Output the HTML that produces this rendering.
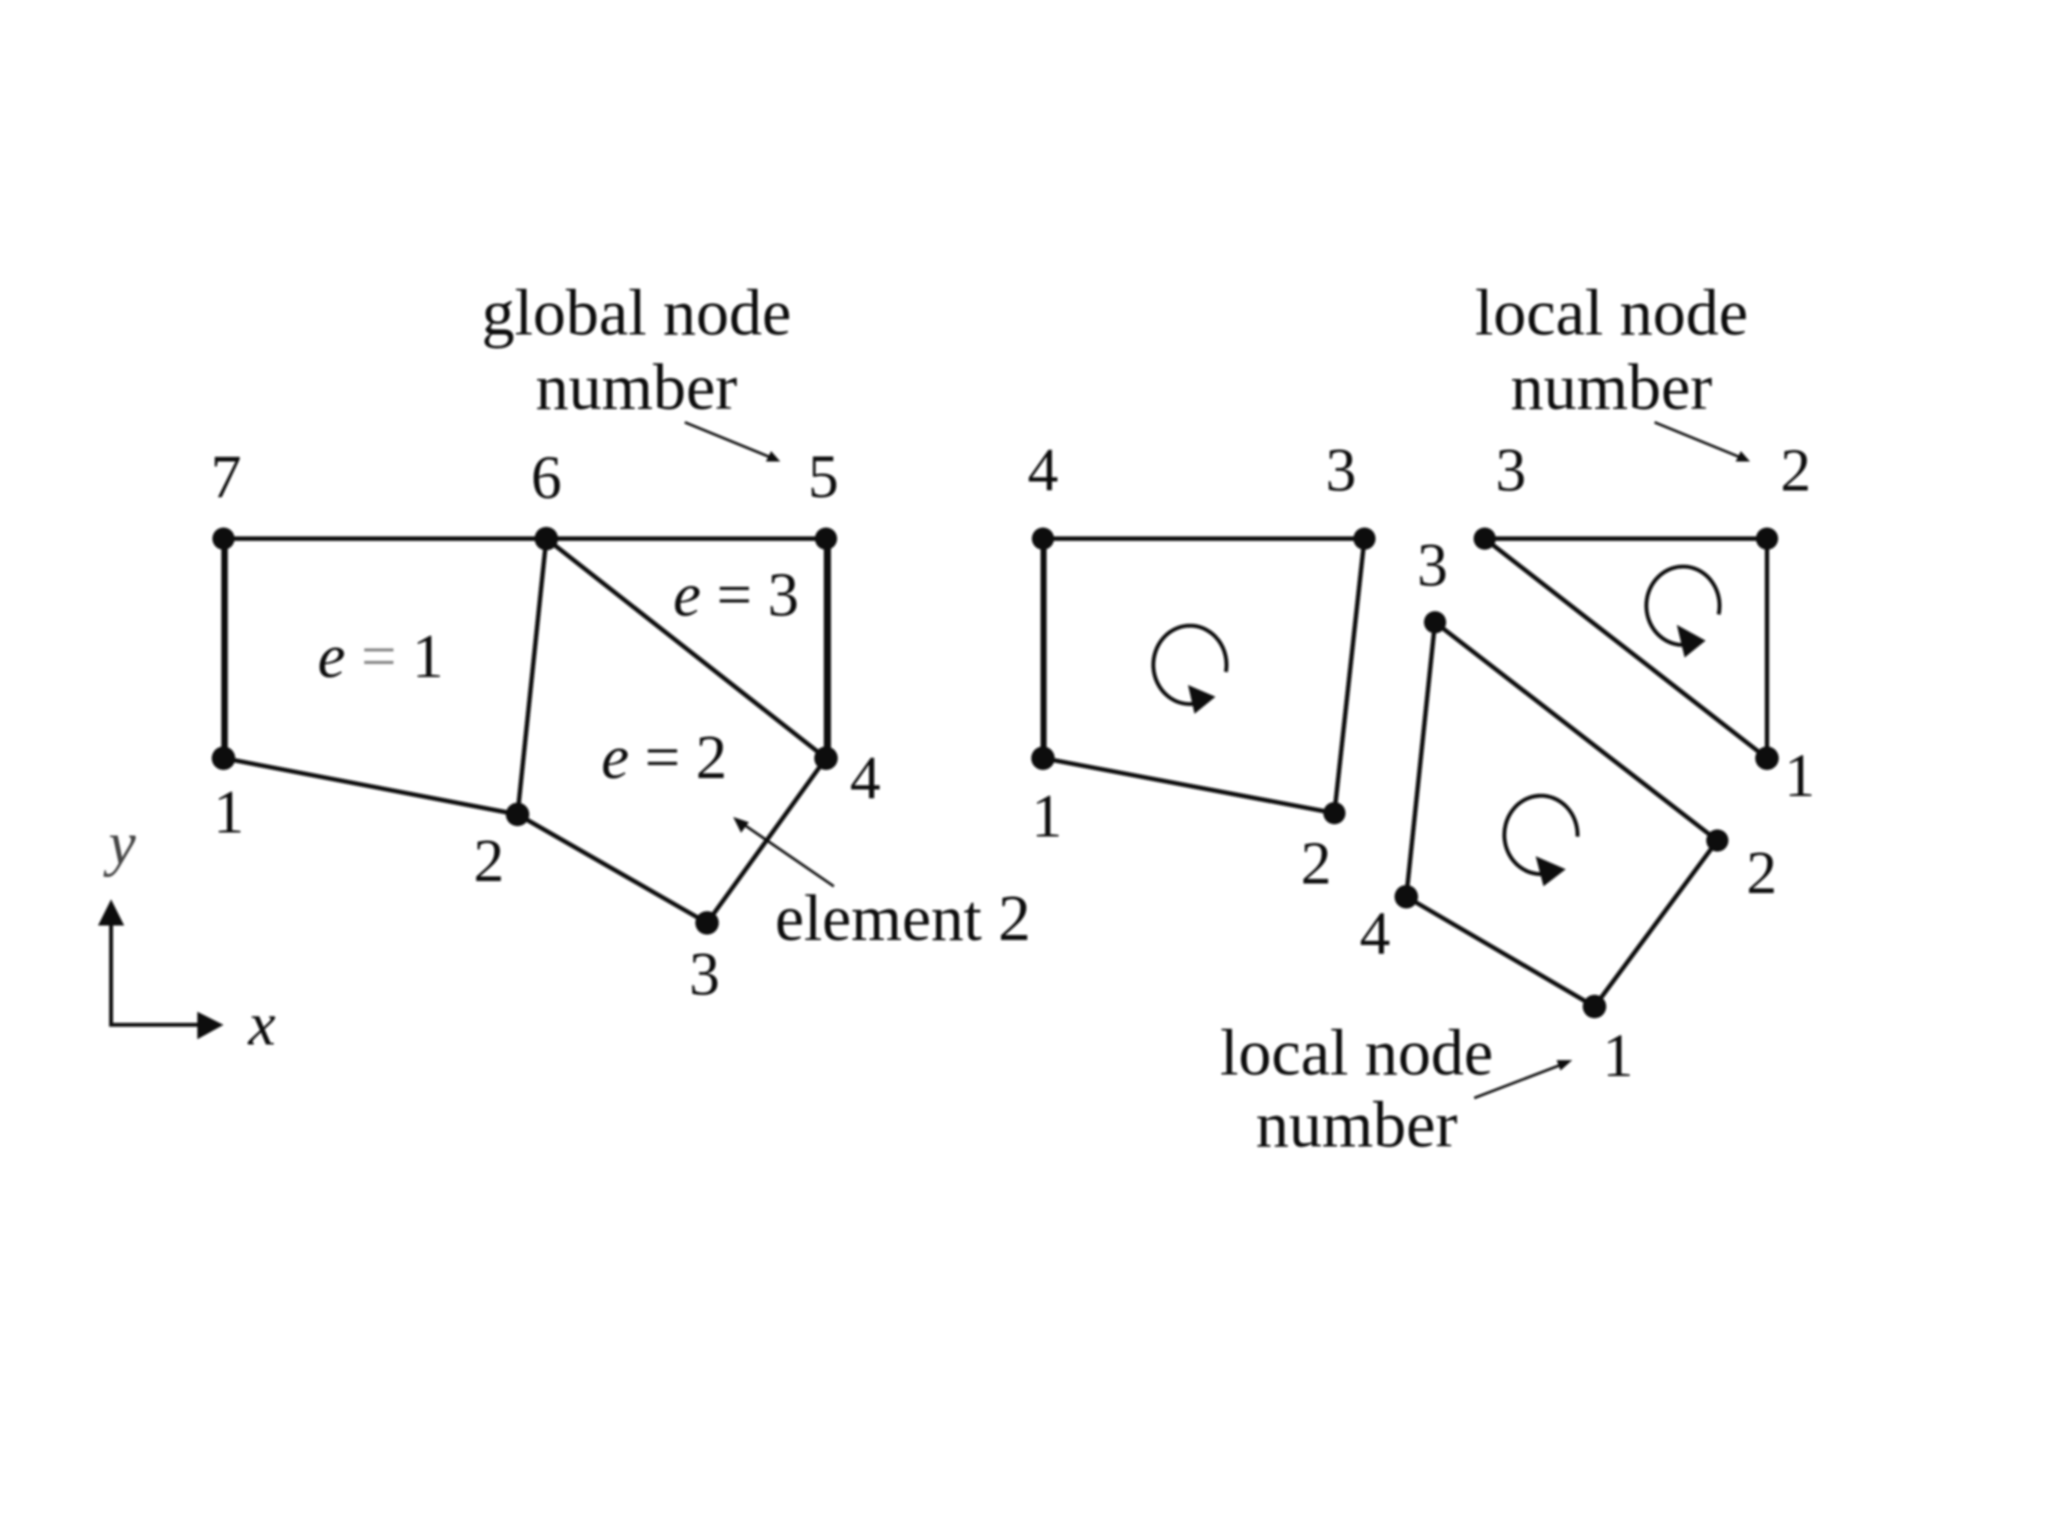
<!DOCTYPE html>
<html><head><meta charset="utf-8"><style>
html,body{margin:0;padding:0;background:#fff}
svg{display:block}
text{font-family:"Liberation Serif",serif;font-size:47px;fill:#111}
.c{text-anchor:middle}
.i{font-style:italic}
.w{font-size:50.5px}
.e{font-size:48px}
</style></head><body>
<svg width="2048" height="1536" viewBox="0 0 1567 1175" xmlns="http://www.w3.org/2000/svg">
<defs><filter id="b" x="-5%" y="-5%" width="110%" height="110%"><feGaussianBlur stdDeviation="0.8"/></filter></defs>
<rect width="1567" height="1175" fill="#fff"/>
<g filter="url(#b)">
<g fill="none" stroke="#111" stroke-width="3.4">
<path d="M171 412H632V580L541 706L396 623L171 580Z"/>
<path d="M418 412L396 623M418 412L632 580"/>
<path d="M798 412H1044L1021 622L798 580Z"/>
<path d="M1136 412H1352V580Z"/>
<path d="M1098 476L1314 643L1220 770L1076 686Z"/>
<path d="M172 412V580M633.5 412V580M798.5 412V580" stroke-width="4.6"/>
<path d="M85 700V784H160" stroke-width="3"/>
<g stroke-width="2">
<path d="M524 323L590 350M1266 323L1332 350M1128 840L1196 814M638 678L568 630"/>
</g>
<g stroke-width="3">
<path d="M938 514A28 30 0 1 0 916 538"/>
<path d="M1315 470A28 30 0 1 0 1292 493"/>
<path d="M1207 640A28 30 0 1 0 1185 668"/>
</g>
</g>
<g fill="#111">
<circle cx="171" cy="412" r="8.5"/><circle cx="418" cy="412" r="9"/><circle cx="632" cy="412" r="8.5"/>
<circle cx="632" cy="580" r="9"/><circle cx="541" cy="706" r="9"/><circle cx="396" cy="623" r="9"/><circle cx="171" cy="580" r="9"/>
<circle cx="798" cy="412" r="8.5"/><circle cx="1044" cy="412" r="8.5"/><circle cx="1021" cy="622" r="8.5"/><circle cx="798" cy="580" r="9"/>
<circle cx="1136" cy="412" r="8.5"/><circle cx="1352" cy="412" r="8.5"/><circle cx="1352" cy="580" r="9"/>
<circle cx="1098" cy="476" r="8.5"/><circle cx="1314" cy="643" r="8.5"/><circle cx="1220" cy="770" r="9"/><circle cx="1076" cy="686" r="9"/>
<path d="M85 688L95 708H75Z"/><path d="M171 784L151 774V795Z"/>
<path d="M597 353L586 353L590 345Z"/><path d="M1339 353L1328 353L1332 345Z"/><path d="M1203 811L1194 819L1191 811Z"/><path d="M561 625L573 629L567 637Z"/>
<path d="M930 533L909 524L914 546Z"/><path d="M1305 490L1283 478L1289 503Z"/><path d="M1198 665L1175 655L1181 678Z"/>
</g>
<text class="c w" x="487" y="256">global node</text>
<text class="c w" x="487" y="313">number</text>
<text class="c w" x="1233" y="256">local node</text>
<text class="c w" x="1233" y="313">number</text>
<text class="c w" x="1038" y="822">local node</text>
<text class="c w" x="1038" y="877">number</text>
<text x="593" y="719" style="font-size:50px">element 2</text>
<text class="c" x="173" y="380">7</text><text class="c" x="418" y="381">6</text><text class="c" x="630" y="380">5</text>
<text class="c" x="662" y="611">4</text><text class="c" x="539" y="761">3</text><text class="c" x="374" y="674">2</text><text class="c" x="175" y="637">1</text>
<text class="c" x="798" y="375">4</text><text class="c" x="1026" y="375">3</text><text class="c" x="1007" y="676">2</text><text class="c" x="801" y="640">1</text>
<text class="c" x="1156" y="375">3</text><text class="c" x="1374" y="375">2</text><text class="c" x="1377" y="609">1</text>
<text class="c" x="1096" y="448">3</text><text class="c" x="1348" y="683">2</text><text class="c" x="1238" y="823">1</text><text class="c" x="1052" y="730">4</text>
<text class="e" x="243" y="518"><tspan class="i">e</tspan> <tspan fill="#888">=</tspan> 1</text>
<text class="e" x="515" y="471"><tspan class="i">e</tspan> = 3</text>
<text class="e" x="460" y="595"><tspan class="i">e</tspan> = 2</text>
<text class="i" x="83" y="661" style="fill:#444">y</text>
<text class="i" x="190" y="799">x</text>
</g>
</svg>
</body></html>
